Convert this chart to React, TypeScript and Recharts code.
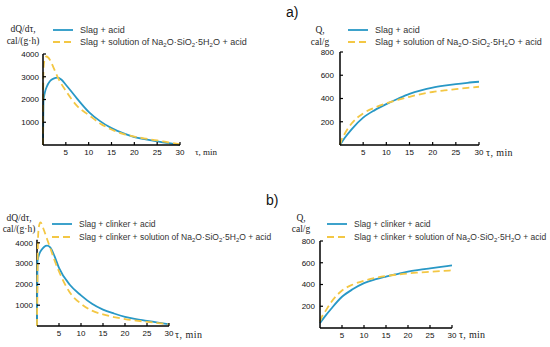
import React from "react";
import { LineChart, Line, XAxis, YAxis, Legend, ReferenceLine } from "recharts";

// time axis ticks (min) and value ticks
const timeTicks = [5, 10, 15, 20, 25, 30];
const rateTicks = [1000, 2000, 3000, 4000];
const heatTicks = [200, 400, 600, 800];

// a) heat release rate, cal/(g·h)
const rateTimeA1 = [0, 0.1, 0.4, 0.8, 1.5, 2.3, 3.2, 4, 5, 7.5, 10, 12.5, 15, 17.5, 20, 22.5, 25, 27.5, 30];
const rateSlagA = [0, 1900, 2300, 2550, 2800, 2920, 2960, 2880, 2650, 2030, 1460, 1050, 740, 520, 350, 250, 160, 80, 10];
const rateTimeA2 = [0, 0.1, 0.4, 0.8, 1.5, 2.3, 3.3, 5, 7.5, 10, 12.5, 15, 17.5, 20, 22.5, 25, 27.5, 30];
const rateSolA = [0, 3300, 3800, 3890, 3750, 3400, 2950, 2380, 1710, 1320, 950, 680, 490, 370, 280, 200, 110, 30];

// a) total heat, cal/g
const heatTimeA1 = [0, 1, 2.5, 5, 7.5, 10, 12.5, 15, 17.5, 20, 22.5, 25, 27.5, 30];
const heatSlagA = [0, 60, 135, 235, 300, 352, 398, 440, 470, 493, 510, 524, 535, 544];
const heatTimeA2 = [0, 0.3, 1, 2.5, 5, 7.5, 10, 12.5, 15, 17.5, 20, 22.5, 25, 27.5, 30];
const heatSolA = [0, 40, 95, 185, 272, 322, 358, 388, 415, 438, 456, 469, 480, 491, 501];

// b) heat release rate, cal/(g·h)
const rateTimeB1 = [0, 0.1, 0.5, 1, 1.6, 2.3, 3, 4, 5, 7.5, 10, 12.5, 15, 17.5, 20, 22.5, 25, 27.5, 30];
const rateClinkerB = [0, 3100, 3450, 3650, 3800, 3860, 3780, 3350, 2790, 1970, 1475, 1070, 790, 600, 440, 330, 250, 160, 80];
const rateTimeB2 = [0, 0.25, 0.45, 0.8, 1.5, 2.3, 3, 4, 5, 7.5, 10, 12.5, 15, 17.5, 20, 22.5, 25, 27.5, 30];
const rateSolB = [0, 4300, 4800, 4980, 4650, 4170, 3760, 3150, 2620, 1600, 1070, 740, 560, 430, 330, 260, 200, 140, 80];

// b) total heat, cal/g
const heatTimeB1 = [0, 1, 2.5, 5, 7.5, 10, 12.5, 15, 17.5, 20, 22.5, 25, 27.5, 30];
const heatClinkerB = [45, 100, 175, 287, 358, 413, 447, 473, 496, 518, 534, 548, 562, 576];
const heatTimeB2 = [0, 0.5, 1, 2.5, 5, 7.5, 10, 12.5, 15, 17.5, 20, 22.5, 25, 27.5, 30];
const heatSolB = [60, 110, 140, 235, 345, 400, 435, 460, 478, 491, 502, 510, 517, 524, 530];

const BLUE = "#2898c6";
const YELLOW = "#f3c744";
const SANS = "'Liberation Sans', Arial, sans-serif";
const SERIF = "'Liberation Serif', 'Times New Roman', serif";

const toPoints = (t: number[], v: number[]) => t.map((x, i) => ({ t: x, v: v[i] }));

const Sub = ({ children }: { children: React.ReactNode }) => (
  <sub style={{ fontSize: 6, verticalAlign: "baseline", position: "relative", top: 2 }}>{children}</sub>
);

const Silicate = () => (
  <>
    Na<Sub>2</Sub>O·SiO<Sub>2</Sub>·5H<Sub>2</Sub>O
  </>
);

function YTick(props: any) {
  const { x, y, payload, gap } = props;
  return (
    <g>
      <line x1={x + gap} x2={x + gap + 3} y1={y} y2={y} stroke="#000" strokeWidth={1.2} />
      <text x={x} y={y} dy="0.35em" textAnchor="end" fontSize={8} fontFamily={SANS} fill="#111">
        {payload.value}
      </text>
    </g>
  );
}

function XTick(props: any) {
  const { x, y, payload, gap } = props;
  return (
    <g>
      <line x1={x} x2={x} y1={y - gap} y2={y - gap - 3} stroke="#000" strokeWidth={1.2} />
      <text x={x} y={y} dy="0.71em" textAnchor="middle" fontSize={8} fontFamily={SANS} fill="#111">
        {payload.value}
      </text>
    </g>
  );
}

interface Series {
  data: { t: number; v: number }[];
  color: string;
  dashed: boolean;
  label: React.ReactNode;
}

interface PanelProps {
  left: number;
  top: number;
  width: number;
  height: number;
  margin: { top: number; right: number; bottom: number; left: number };
  yDomain: [number, number];
  yTicks: number[];
  yGap: number;
  axisTop?: number;
  series: Series[];
  legendPos: { left: number; top: number };
  rowHeight: number;
  legendSize: number;
}

function Panel(p: PanelProps) {
  const legend = () => (
    <div style={{ fontFamily: SANS, fontSize: p.legendSize, color: "#333", whiteSpace: "nowrap" }}>
      {p.series.map((s, i) => (
        <div key={i} style={{ display: "flex", alignItems: "center", height: p.rowHeight }}>
          <svg width={20} height={4} style={{ marginRight: 7 }}>
            <line x1={0} x2={20} y1={2} y2={2} stroke={s.color} strokeWidth={1.8} strokeDasharray={s.dashed ? "7 4" : undefined} />
          </svg>
          <span>{s.label}</span>
        </div>
      ))}
    </div>
  );

  // axes take 1px each from the margins
  const m = { ...p.margin, left: p.margin.left - 1, bottom: p.margin.bottom - 1 };

  return (
    <div style={{ position: "absolute", left: p.left, top: p.top }}>
      <LineChart width={p.width} height={p.height} margin={m}>
        <XAxis
          type="number"
          dataKey="t"
          domain={[0, 30]}
          ticks={timeTicks}
          height={1}
          tickSize={0}
          tickMargin={4}
          tickLine={false}
          tick={(props: any) => <XTick {...props} gap={4} />}
          axisLine={{ stroke: "#000", strokeWidth: 1.5 }}
          interval={0}
        />
        <YAxis
          type="number"
          dataKey="v"
          domain={p.yDomain}
          ticks={p.yTicks}
          width={1}
          tickSize={0}
          tickMargin={p.yGap}
          tickLine={false}
          tick={(props: any) => <YTick {...props} gap={p.yGap} />}
          axisLine={p.axisTop ? false : { stroke: "#000", strokeWidth: 1.5 }}
          interval={0}
        />
        {p.axisTop ? (
          <ReferenceLine
            segment={[
              { x: 0, y: 0 },
              { x: 0, y: p.axisTop },
            ]}
            stroke="#000"
            strokeWidth={1.5}
            ifOverflow="visible"
          />
        ) : null}
        <Legend
          content={legend}
          layout="horizontal"
          verticalAlign="middle"
          align="center"
          wrapperStyle={{ left: p.legendPos.left, top: p.legendPos.top, width: "auto" }}
        />
        {p.series.map((s, i) => (
          <Line
            key={i}
            data={s.data}
            dataKey="v"
            type="monotone"
            stroke={s.color}
            strokeWidth={1.8}
            strokeDasharray={s.dashed ? "7 4" : undefined}
            dot={false}
            activeDot={false}
            legendType="none"
            isAnimationActive={false}
          />
        ))}
      </LineChart>
    </div>
  );
}

const abs = (left: number, top: number, extra: React.CSSProperties = {}): React.CSSProperties => ({
  position: "absolute",
  left,
  top,
  whiteSpace: "nowrap",
  ...extra,
});

export default function App() {
  return (
    <div style={{ position: "relative", width: 550, height: 347, background: "#fff", overflow: "hidden" }}>
      <style>{"body{margin:0}"}</style>

      <Panel
        left={0}
        top={0}
        width={275}
        height={170}
        margin={{ top: 54, right: 95, bottom: 25, left: 43 }}
        yDomain={[0, 4000]}
        yTicks={rateTicks}
        yGap={4}
        series={[
          { data: toPoints(rateTimeA1, rateSlagA), color: BLUE, dashed: false, label: "Slag + acid" },
          { data: toPoints(rateTimeA2, rateSolA), color: YELLOW, dashed: true, label: <>Slag + solution of <Silicate /> + acid</> },
        ]}
        legendPos={{ left: 53, top: 24 }}
        rowHeight={12}
        legendSize={9}
      />
      <Panel
        left={275}
        top={0}
        width={275}
        height={170}
        margin={{ top: 52, right: 71, bottom: 25, left: 65 }}
        yDomain={[0, 800]}
        yTicks={heatTicks}
        yGap={6}
        series={[
          { data: toPoints(heatTimeA1, heatSlagA), color: BLUE, dashed: false, label: "Slag + acid" },
          { data: toPoints(heatTimeA2, heatSolA), color: YELLOW, dashed: true, label: <>Slag + solution of <Silicate /> + acid</> },
        ]}
        legendPos={{ left: 73, top: 24 }}
        rowHeight={12}
        legendSize={9}
      />
      <Panel
        left={0}
        top={170}
        width={275}
        height={177}
        margin={{ top: 52, right: 106, bottom: 21, left: 37 }}
        yDomain={[0, 5000]}
        yTicks={rateTicks}
        yGap={4}
        axisTop={4150}
        series={[
          { data: toPoints(rateTimeB1, rateClinkerB), color: BLUE, dashed: false, label: "Slag + clinker + acid" },
          { data: toPoints(rateTimeB2, rateSolB), color: YELLOW, dashed: true, label: <>Slag + clinker + solution of <Silicate /> + acid</> },
        ]}
        legendPos={{ left: 52, top: 47 }}
        rowHeight={13}
        legendSize={8.5}
      />
      <Panel
        left={275}
        top={170}
        width={275}
        height={177}
        margin={{ top: 71, right: 98, bottom: 19, left: 45 }}
        yDomain={[0, 800]}
        yTicks={heatTicks}
        yGap={5}
        series={[
          { data: toPoints(heatTimeB1, heatClinkerB), color: BLUE, dashed: false, label: "Slag + clinker + acid" },
          { data: toPoints(heatTimeB2, heatSolB), color: YELLOW, dashed: true, label: <>Slag + clinker + solution of <Silicate /> + acid</> },
        ]}
        legendPos={{ left: 52, top: 47 }}
        rowHeight={13}
        legendSize={8.5}
      />

      {/* axis titles */}
      <div style={abs(3, 23, { width: 40, textAlign: "center", fontFamily: SERIF, fontSize: 9.5, lineHeight: "12px", color: "#222" })}>
        dQ/dτ,<br />cal/(g·h)
      </div>
      <div style={abs(300, 24, { width: 40, textAlign: "center", fontFamily: SERIF, fontSize: 9.5, lineHeight: "12px", color: "#222" })}>
        Q,<br />cal/g
      </div>
      <div style={abs(-1, 213, { width: 40, textAlign: "center", fontFamily: SERIF, fontSize: 9.5, lineHeight: "11px", color: "#222" })}>
        dQ/dτ,<br />cal/(g·h)
      </div>
      <div style={abs(281, 213, { width: 40, textAlign: "center", fontFamily: SERIF, fontSize: 9.5, lineHeight: "11px", color: "#222" })}>
        Q,<br />cal/g
      </div>

      <div style={abs(195, 147, { fontFamily: SERIF, fontSize: 9, color: "#222" })}>τ, min</div>
      <div style={abs(486, 147, { fontFamily: SERIF, fontSize: 10, letterSpacing: 0.4, color: "#222" })}>τ, min</div>
      <div style={abs(175, 329, { fontFamily: SERIF, fontSize: 10, letterSpacing: 0.5, color: "#222" })}>τ, min</div>
      <div style={abs(459, 329, { fontFamily: SERIF, fontSize: 10, letterSpacing: 0.3, color: "#222" })}>τ, min</div>

      {/* panel letters */}
      <div style={abs(286, 4, { fontFamily: SANS, fontSize: 14, color: "#111" })}>a)</div>
      <div style={abs(266, 192, { fontFamily: SANS, fontSize: 14, color: "#111" })}>b)</div>
    </div>
  );
}
